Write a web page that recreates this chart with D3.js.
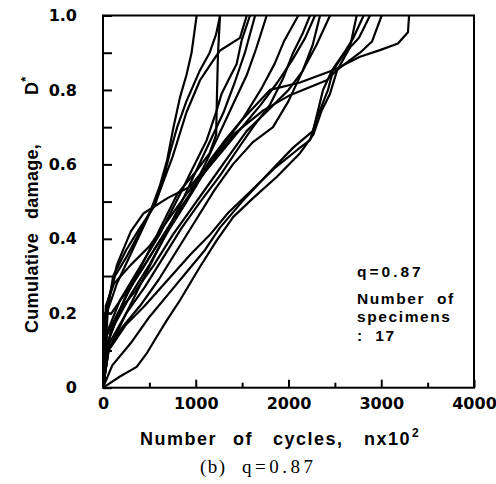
<!DOCTYPE html>
<html><head><meta charset="utf-8">
<script src="https://cdn.jsdelivr.net/npm/d3@7"></script>
<style>
html,body{margin:0;padding:0;background:#fff;}
svg{display:block;}
</style></head>
<body>
<svg id="chart" width="496" height="484"></svg>
<script>
// ---- data (n in cycles x10^2, cumulative damage D*) ----
const xTicks = [0, 500, 1000, 1500, 2000, 2500, 3000, 3500, 4000];
const xTickLabels = ["0", "", "1000", "", "2000", "", "3000", "", "4000"];
const yTicks = [0, 0.1, 0.2, 0.3, 0.4, 0.5, 0.6, 0.7, 0.8, 0.9, 1.0];
const yTickLabels = ["0", "", "0.2", "", "0.4", "", "0.6", "", "0.8", "", "1.0"];

const s1 = [[0,0],[60,0.24],[130,0.30],[250,0.35],[400,0.42],[520,0.48],[610,0.54],[690,0.61],[760,0.70],[830,0.78],[900,0.84],[955,0.90],[1010,1.0]];
const s2 = [[0,0],[30,0.18],[110,0.30],[250,0.37],[400,0.43],[560,0.49],[650,0.56],[720,0.63],[800,0.70],[900,0.77],[1040,0.85],[1150,0.90],[1220,0.95],[1262,1.0]];
const s3 = [[0,0],[50,0.12],[200,0.22],[400,0.32],[600,0.42],[800,0.52],[1000,0.58],[1150,0.63],[1220,0.68],[1230,0.80],[1240,0.90],[1262,1.0]];
const s4 = [[0,0],[40,0.20],[150,0.28],[300,0.36],[450,0.44],[600,0.52],[750,0.62],[900,0.74],[1046,0.826],[1136,0.86],[1262,0.906],[1477,0.94],[1550,1.0]];
const s5 = [[0,0],[40,0.146],[183,0.235],[399,0.325],[615,0.414],[830,0.52],[974,0.593],[1118,0.665],[1226,0.745],[1279,0.79],[1369,0.835],[1441,0.87],[1495,0.933],[1585,1.0]];
const s6 = [[0,0],[60,0.10],[250,0.20],[450,0.30],[650,0.40],[850,0.50],[1000,0.58],[1150,0.66],[1300,0.74],[1420,0.82],[1530,0.90],[1640,1.0]];
const s7 = [[0,0],[80,0.15],[300,0.25],[500,0.33],[700,0.42],[900,0.50],[1100,0.60],[1250,0.68],[1400,0.76],[1550,0.84],[1650,0.91],[1765,1.0]];
const m1 = [[0,0],[10,0.20],[90,0.20],[200,0.24],[400,0.31],[600,0.39],[800,0.46],[1000,0.54],[1150,0.61],[1300,0.66],[1500,0.72],[1700,0.80],[1850,0.87],[1950,0.93],[2106,1.0]];
const m2 = [[0,0],[70,0.12],[250,0.20],[450,0.27],[650,0.35],[850,0.43],[1050,0.50],[1261,0.57],[1450,0.64],[1617,0.70],[1800,0.76],[1940,0.83],[2050,0.90],[2150,0.95],[2232,1.0]];
const m3 = [[0,0],[30,0.22],[120,0.28],[300,0.33],[500,0.38],[700,0.45],[900,0.52],[1100,0.58],[1300,0.64],[1500,0.70],[1700,0.76],[1880,0.82],[2040,0.88],[2180,0.94],[2286,1.0]];
const m4 = [[0,0],[50,0.10],[200,0.16],[400,0.22],[600,0.29],[800,0.37],[1000,0.45],[1200,0.53],[1400,0.60],[1617,0.66],[1833,0.70],[2000,0.77],[2150,0.85],[2260,0.92],[2340,1.0]];
const m5 = [[0,0],[40,0.14],[180,0.21],[350,0.26],[550,0.33],[750,0.41],[950,0.48],[1150,0.55],[1350,0.62],[1550,0.69],[1800,0.75],[2000,0.80],[2150,0.85],[2300,0.92],[2448,1.0]];
const r1 = [[0,0],[183,0.03],[363,0.056],[471,0.092],[579,0.137],[686,0.18],[830,0.235],[1046,0.325],[1226,0.396],[1405,0.459],[1621,0.51],[1872,0.566],[2124,0.63],[2268,0.68],[2358,0.745],[2448,0.79],[2520,0.85],[2663,0.915],[2735,1.0]];
const r2 = [[0,0],[100,0.06],[300,0.12],[500,0.19],[700,0.25],[900,0.31],[1100,0.37],[1261,0.43],[1500,0.50],[1800,0.58],[2050,0.645],[2265,0.69],[2372,0.80],[2470,0.853],[2600,0.90],[2700,0.94],[2810,1.0]];
const r3 = [[0,0],[60,0.10],[250,0.17],[450,0.22],[700,0.29],[950,0.36],[1150,0.41],[1350,0.47],[1600,0.53],[1850,0.59],[2100,0.64],[2232,0.665],[2300,0.72],[2426,0.80],[2480,0.853],[2610,0.90],[2760,0.94],[2879,1.0]];
const sh1 = [[0,0],[30,0.20],[150,0.33],[300,0.42],[435,0.468],[700,0.51],[938,0.54],[1200,0.62],[1500,0.72],[1800,0.80],[2124,0.82],[2480,0.853],[2771,0.889],[2986,0.907],[3180,0.925],[3288,0.955],[3300,1.0]];
const sh2 = [[0,0],[60,0.13],[250,0.25],[500,0.35],[800,0.47],[1100,0.58],[1405,0.68],[1729,0.745],[2016,0.786],[2412,0.826],[2520,0.853],[2771,0.90],[2900,0.93],[3005,1.0]];

const curves = [s1, s2, s3, s4, s5, s6, s7, m1, m2, m3, m4, m5, r1, r2, r3, sh1, sh2];

// text pieces
const xTitleWords = ["Number", "of", "cycles,", "nx10"];
const yTitleWords = ["Cumulative", "damage,", "D"];
const noteLines = ["q=0.87", "Number  of", "specimens", ":  17"];

// ---- layout ----
const svg = d3.select("#chart");
const L = 103, R = 474, T = 15.5, B = 387.7;
const x = d3.scaleLinear().domain([0, 4000]).range([L, R]);
const y = d3.scaleLinear().domain([0, 1]).range([B, T]);
const TICKFONT = "'DejaVu Sans', sans-serif";
const FONT = "'Liberation Sans', Arial, sans-serif";

// curves
const line = d3.line().x(d => x(d[0])).y(d => y(d[1]));
svg.append("clipPath").attr("id", "c").append("rect")
  .attr("x", L).attr("y", T).attr("width", R - L).attr("height", B - T);
svg.append("g").attr("clip-path", "url(#c)")
  .selectAll("path").data(curves).join("path")
  .attr("d", line).attr("fill", "none").attr("stroke", "#000")
  .attr("stroke-width", 2.2).attr("stroke-linejoin", "round");

// frame
svg.append("rect").attr("x", L).attr("y", T).attr("width", R - L).attr("height", B - T)
  .attr("fill", "none").attr("stroke", "#000").attr("stroke-width", 2);

// x axis
const xAxis = d3.axisBottom(x).tickValues(xTicks)
  .tickFormat((d, i) => xTickLabels[i]).tickSizeInner(-8).tickSizeOuter(0).tickPadding(9.5);
const gx = svg.append("g").attr("transform", `translate(0,${B})`).call(xAxis);
gx.select(".domain").remove();
gx.selectAll(".tick line").attr("stroke-width", 2)
  .attr("y2", (d, i) => xTickLabels[i] === "" ? -5 : -8);
gx.selectAll(".tick text").attr("font-family", TICKFONT).attr("font-weight", "bold")
  .attr("font-size", 16).attr("fill", "#000");

// y axis
const yAxis = d3.axisLeft(y).tickValues(yTicks)
  .tickFormat((d, i) => yTickLabels[i]).tickSizeInner(-9).tickSizeOuter(0).tickPadding(26);
const gy = svg.append("g").attr("transform", `translate(${L},0)`).call(yAxis);
gy.select(".domain").remove();
gy.selectAll(".tick line").attr("stroke-width", 2);
gy.selectAll(".tick text").attr("font-family", TICKFONT).attr("font-weight", "bold")
  .attr("font-size", 16).attr("fill", "#000");

// x title
const xWordX = [140, 233, 273, 364];
const xt = svg.append("text").attr("y", 445).attr("font-family", FONT)
  .attr("font-weight", "bold").attr("font-size", 18).attr("letter-spacing", 1.5).attr("fill", "#000");
xTitleWords.forEach((w, i) => {
  xt.append("tspan").attr("x", xWordX[i]).text(w);
});
xt.append("tspan").attr("dx", 1).attr("dy", -8).attr("font-size", 12).text("2");

// y title (rotated; start positions measured along the axis from the bottom)
const yWordY = [333, 219, 95];
const yt = svg.append("text").attr("transform", "translate(38,0) rotate(-90)")
  .attr("font-family", FONT).attr("font-weight", "bold").attr("font-size", 18)
  .attr("letter-spacing", 0.3).attr("fill", "#000");
yTitleWords.forEach((w, i) => {
  yt.append("tspan").attr("x", -yWordY[i]).text(w);
});
yt.append("tspan").attr("dy", -8).attr("font-size", 13).text("*");

// annotation
const noteY = [277, 304, 322, 341];
const noteLS = [3, 1.6, 1.6, 1.5];
svg.selectAll("text.ann").data(noteLines).join("text").attr("class", "ann")
  .attr("x", 357).attr("y", (d, i) => noteY[i]).attr("font-family", FONT)
  .attr("font-weight", "bold").attr("font-size", 15.5)
  .attr("letter-spacing", (d, i) => noteLS[i])
  .style("white-space", "pre").attr("fill", "#000").text(d => d);

// caption
const SERIF = "'Liberation Serif', 'Times New Roman', serif";
svg.append("text").attr("x", 200).attr("y", 473).attr("font-family", SERIF)
  .attr("font-size", 19).attr("letter-spacing", 1.5).attr("fill", "#000").text("(b)");
svg.append("text").attr("x", 242).attr("y", 473).attr("font-family", SERIF)
  .attr("font-size", 19).attr("letter-spacing", 3.5).attr("fill", "#000").text("q=0.87");
</script>
</body></html>
